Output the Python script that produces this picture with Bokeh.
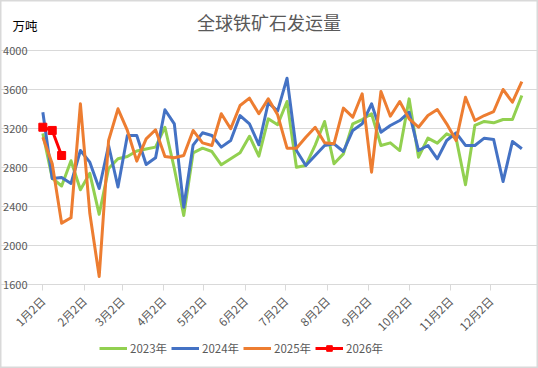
import math
import pandas as pd
from bokeh.plotting import figure
from bokeh.models import (Range1d, FixedTicker, CustomJSTickFormatter, Legend,
                          LegendItem, Label)
from bokeh.embed import file_html
from bokeh.resources import INLINE

# ---------------- data ----------------
chart_title = "全球铁矿石发运量"
unit_text = "万吨"
series_names = ["2023年", "2024年", "2025年", "2026年"]
week_start = "2025-01-02"
tick_labels = ["1月2日", "2月2日", "3月2日", "4月2日", "5月2日", "6月2日",
               "7月2日", "8月2日", "9月2日", "10月2日", "11月2日", "12月2日"]
y_ticks = [1600, 2000, 2400, 2800, 3200, 3600, 4000]

v2023 = [3150, 2690, 2610, 2870, 2572, 2740, 2320, 2790, 2890, 2913, 2970, 2990,
         3009, 3213, 2790, 2308, 2950, 2998, 2964, 2828, 2889, 2951, 3121, 2916,
         3299, 3238, 3477, 2803, 2821, 3030, 3272, 2838, 2940, 3248, 3292, 3351,
         3026, 3053, 2974, 3504, 2906, 3101, 3050, 3145, 3101, 2623, 3231, 3272,
         3258, 3292, 3292, 3538]
v2024 = [3367, 2687, 2697, 2636, 2974, 2855, 2585, 3026, 2600, 3128, 3128, 2831,
         2899, 3392, 3248, 2393, 3030, 3156, 3128, 3009, 3077, 3333, 3248, 3033,
         3464, 3380, 3716, 2974, 2821, 2923, 3026, 3043, 2964, 3180, 3248, 3453,
         3162, 3231, 3282, 3367, 2974, 3026, 2889, 3077, 3156, 3026, 3026, 3101,
         3087, 2656, 3067, 2992]
v2025 = [3111, 2838, 2229, 2284, 3453, 2330, 1682, 3077, 3402, 3180, 2865, 3094,
         3187, 2913, 2900, 2923, 3180, 3053, 3026, 3351, 3197, 3436, 3511, 3351,
         3504, 3340, 2998, 2998, 3111, 3213, 3053, 3043, 3409, 3316, 3556, 2752,
         3580, 3326, 3477, 3299, 3213, 3333, 3395, 3248, 3077, 3521, 3282, 3333,
         3374, 3600, 3470, 3682]
v2026 = [3213, 3180, 2923]

# ---------------- positions derived from dates ----------------
base = pd.Timestamp(week_start)
week_dates = pd.date_range(week_start, periods=len(v2023), freq="7D")
x_weeks = [(d - base).days for d in week_dates]
tick_pos = [(pd.Timestamp(base.year, int(l.split("月")[0]), 2) - base).days
            for l in tick_labels]

FONT = "Noto Sans CJK SC"
GREY = "#595959"
GRID = "#d9d9d9"
COLORS = ["#92D050", "#4472C4", "#ED7D31", "#FF0000"]

# ---------------- layout constants (pixels) ----------------
W, H = 538, 368
AX_L, AX_R = 41, 522       # plot area left / right edge
GRID_TOP, GRID_BOT = 50, 284
X0, X1 = -1.0, 357.5       # data extent of plot area (days from Jan 2)
ppd = (AX_R - AX_L) / (X1 - X0)
upp = (y_ticks[-1] - y_ticks[0]) / (GRID_BOT - GRID_TOP)


def xd(px):
    return X0 + (px - AX_L) / ppd


def yd(py):
    return y_ticks[-1] - (py - GRID_TOP) * upp


p = figure(width=W, height=H, output_backend="svg", toolbar_location=None,
           x_range=Range1d(xd(0), xd(W)), y_range=Range1d(yd(H), yd(0)),
           min_border=0)
p.outline_line_color = GRID
p.outline_line_width = 2
p.xgrid.visible = False
p.ygrid.ticker = FixedTicker(ticks=y_ticks)
p.ygrid.bounds = (X0, X1)
p.ygrid.grid_line_color = GRID
p.ygrid.grid_line_width = 1

p.yaxis.fixed_location = X0
p.yaxis.ticker = FixedTicker(ticks=y_ticks)
p.yaxis.axis_line_color = None
p.yaxis.major_tick_line_color = None
p.yaxis.minor_tick_line_color = None
p.yaxis.major_label_standoff = 8
p.yaxis.major_label_text_font = FONT
p.yaxis.major_label_text_font_size = "11px"
p.yaxis.major_label_text_color = GREY

p.xaxis.fixed_location = y_ticks[0]
p.xaxis.bounds = (X0, X1)
p.xaxis.ticker = FixedTicker(ticks=tick_pos)
p.xaxis.formatter = CustomJSTickFormatter(
    args=dict(labels=tick_labels, pos=tick_pos),
    code="const i = pos.indexOf(tick); return i >= 0 ? labels[i] : '';")
p.xaxis.major_label_orientation = math.pi / 4
p.xaxis.axis_line_color = GRID
p.xaxis.major_tick_line_color = GRID
p.xaxis.major_tick_out = 6
p.xaxis.major_tick_in = 0
p.xaxis.minor_tick_line_color = None
p.xaxis.major_label_standoff = 8
p.xaxis.major_label_text_font = FONT
p.xaxis.major_label_text_font_size = "11.5px"
p.xaxis.major_label_text_color = GREY

renderers = []
for vals, col in zip([v2023, v2024, v2025], COLORS[:3]):
    r = p.line(x_weeks[:len(vals)], vals, line_color=col, line_width=3,
               line_join="round")
    renderers.append([r])
r26 = p.line(x_weeks[:len(v2026)], v2026, line_color=COLORS[3], line_width=3,
             line_join="round")
s26 = p.scatter(x_weeks[:len(v2026)], v2026, marker="square", size=8,
                fill_color=COLORS[3], line_color=COLORS[3])
renderers.append([r26, s26])

p.add_layout(Label(x=xd(268.5), y=yd(21.5), text=chart_title, text_font=FONT,
                   text_font_size="18px", text_color=GREY, text_align="center",
                   text_baseline="middle"))
p.add_layout(Label(x=xd(12), y=yd(25), text=unit_text, text_font=FONT,
                   text_font_size="12.5px", text_color="#000000",
                   text_align="left", text_baseline="middle"))

legend = Legend(items=[LegendItem(label=n, renderers=rs)
                       for n, rs in zip(series_names, renderers)],
                orientation="horizontal", location=(99, H - 356),
                glyph_width=28, glyph_height=14, label_height=14,
                label_standoff=3, spacing=4, padding=0, margin=0,
                border_line_color=None, background_fill_alpha=0,
                label_text_font=FONT, label_text_font_size="11.5px",
                label_text_color=GREY)
p.add_layout(legend)

open("out.html", "w").write(file_html(p, INLINE))
